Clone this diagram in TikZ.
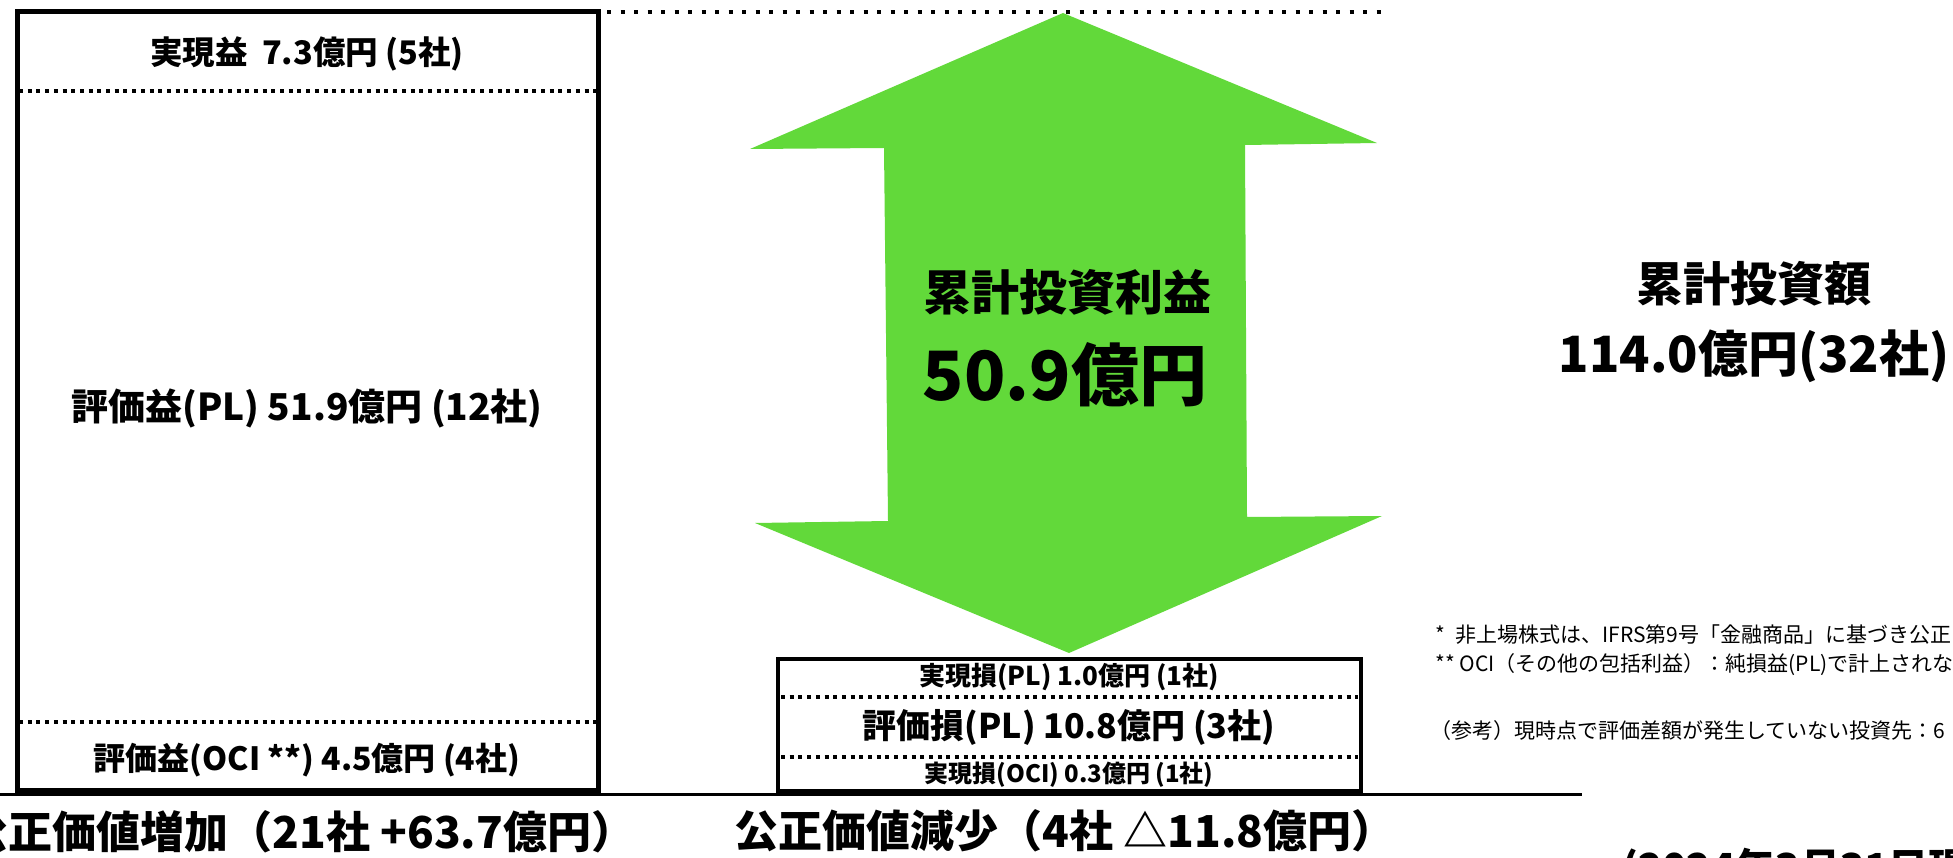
\documentclass[tikz,border=0pt]{standalone}
\usepackage{fontspec}
\setmainfont{Noto Sans CJK JP}
\definecolor{arrowgreen}{HTML}{62D93A}
\begin{document}
\begin{tikzpicture}[x=1pt,y=-1pt,
  framebox/.style={draw=black, line width=5pt, inner sep=0pt},
  sepline/.style={line width=3.4pt, dash pattern=on 4pt off 4.7pt},
  topdots/.style={line width=3.5pt, dash pattern=on 4pt off 9.5pt},
  baseline rule/.style={line width=2.5pt},
  lbl/.style={inner sep=0pt, font=\bfseries\fontsize{#1}{#1}\selectfont},
  note/.style={inner sep=0pt, anchor=west, font=\fontsize{21}{21}\selectfont}
]
\useasboundingbox (0,0) rectangle (1953,858);

% green double arrow
\fill[arrowgreen] (1063,13) -- (1377,143) -- (1245,145) -- (1247,517) -- (1382,516)
  -- (1069,653) -- (755,523) -- (888,521) -- (884,148) -- (750,149) -- cycle;

% left box
\node[framebox, minimum width=581pt, minimum height=778pt] (gain) at (307.5,401) {};
\coordinate (gs1) at (19,91);
\coordinate (gs2) at (596,91);
\coordinate (gs3) at (19,722);
\coordinate (gs4) at (596,722);
\draw[sepline] (gs1) -- (gs2);
\draw[sepline] (gs3) -- (gs4);

% middle box
\node[framebox, line width=4.4pt, minimum width=583pt, minimum height=132pt] (loss) at (1069.5,725) {};
\coordinate (ls1) at (781,697);
\coordinate (ls2) at (1358,697);
\coordinate (ls3) at (781,757);
\coordinate (ls4) at (1358,757);
\draw[sepline] (ls1) -- (ls2);
\draw[sepline] (ls3) -- (ls4);

% top dotted line
\coordinate (td1) at (607,12);
\coordinate (td2) at (1389,12);
\draw[topdots] (td1) -- (td2);

% base line
\coordinate (bl1) at (0,794.5);
\coordinate (bl2) at (1582,794.5);
\draw[baseline rule] (bl1) -- (bl2);

% left texts
\node[lbl=32.5] (t1) at (307,54) {実現益\hspace{0.45em}7.3億円 (5社)};
\node[lbl=37] (t2) at (307,408) {評価益(PL) 51.9億円 (12社)};
\node[lbl=32] (t3) at (307,760) {評価益(OCI **) 4.5億円 (4社)};
\node[lbl=44] (t4) at (300,832) {公正価値増加（21社 +63.7億円）};

% middle texts
\node[lbl=48] (a1) at (1067,292) {累計投資利益};
\node[lbl=68] (a2) at (1065,375) {50.9億円};
\node[lbl=26] (m1) at (1069,677) {実現損(PL) 1.0億円 (1社)};
\node[lbl=34] (m2) at (1069,727) {評価損(PL) 10.8億円 (3社)};
\node[lbl=24] (m3) at (1069,775) {実現損(OCI) 0.3億円 (1社)};
\node[lbl=44] (m4) at (1065,831) {公正価値減少（4社 △11.8億円）};

% right texts
\node[lbl=47] (r1) at (1754,284) {累計投資額};
\node[lbl=50] (r2) at (1754,356) {114.0億円(32社)};

\node[note] (n1) at (1435,635) {*\hspace{0.5em}非上場株式は、IFRS第9号「金融商品」に基づき公正};
\node[note] (n2) at (1435,665) {** OCI（その他の包括利益）：純損益(PL)で計上されな};
\node[note] (n3) at (1430,731) {（参考）現時点で評価差額が発生していない投資先：6};

\node[lbl=40, anchor=base west] (d1) at (1622,882) {(2024年3月31日現在)};
\end{tikzpicture}
\end{document}
